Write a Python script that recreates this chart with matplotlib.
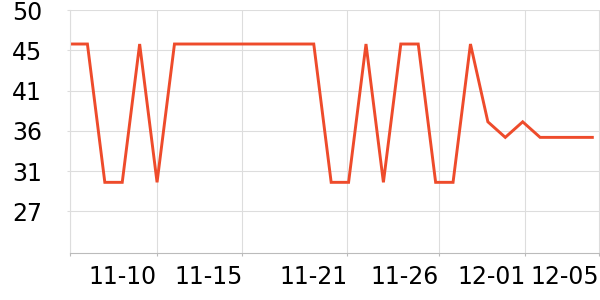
import numpy as np
import matplotlib
matplotlib.use("Agg")
import matplotlib.pyplot as plt

# daily values, 11-05 .. 12-05
dates = ["11-05", "11-06", "11-07", "11-08", "11-09", "11-10", "11-11", "11-12",
         "11-13", "11-14", "11-15", "11-16", "11-17", "11-18", "11-19", "11-20",
         "11-21", "11-22", "11-23", "11-24", "11-25", "11-26", "11-27", "11-28",
         "11-29", "11-30", "12-01", "12-02", "12-03", "12-04", "12-05"]
values = [46.1, 46.1, 30.1, 30.1, 46.1, 30.1, 46.1, 46.1,
          46.1, 46.1, 46.1, 46.1, 46.1, 46.1, 46.1, 30.1,
          30.1, 46.1, 30.1, 46.1, 46.1, 30.1, 30.1, 46.1,
          37.1, 35.3, 37.1, 35.3, 35.3, 35.3, 35.3]

x_labels = ["", "11-10", "11-15", "11-21", "11-26", "12-01", "12-05"]
y_ticks = [26.75, 31.4, 36.05, 40.7, 45.35, 50]
y_labels = ["27", "31", "36", "41", "45", "50"]


def make_fig():
    fig = plt.figure(figsize=(6, 3), dpi=100)
    ax = fig.add_axes([70 / 600, 47.3 / 300, 530 / 600, 242.4 / 300])
    x = np.arange(len(dates))
    ax.plot(x, values, color="#ee4b2b", lw=2.1, solid_joinstyle="miter")

    ax.set_xlim(0, 30.44)
    ax.set_ylim(21.96, 50)

    # tick spots (not exactly on day points)
    ax.set_xticks([0, 5.0, 9.9, 15.93, 21.18, 26.15, 30.4])
    ax.set_xticklabels(x_labels)
    plt.setp(ax.get_xticklabels(), ha="right")
    ax.set_yticks(y_ticks)
    ax.set_yticklabels(y_labels)

    ax.tick_params(axis="x", labelsize=17, length=2, pad=6.5, color="#bbbbbb")
    ax.tick_params(axis="y", labelsize=17, length=2, pad=18, color="#dddddd")
    ax.grid(True, color="#dddddd", lw=0.8)
    ax.set_axisbelow(True)

    for s in ["top", "right"]:
        ax.spines[s].set_visible(False)
    ax.spines["left"].set_color("#dddddd")
    ax.spines["bottom"].set_color("#bbbbbb")
    return fig


def main():
    fig = make_fig()
    fig.savefig("out.png", dpi=100)


if __name__ == "__main__":
    main()
